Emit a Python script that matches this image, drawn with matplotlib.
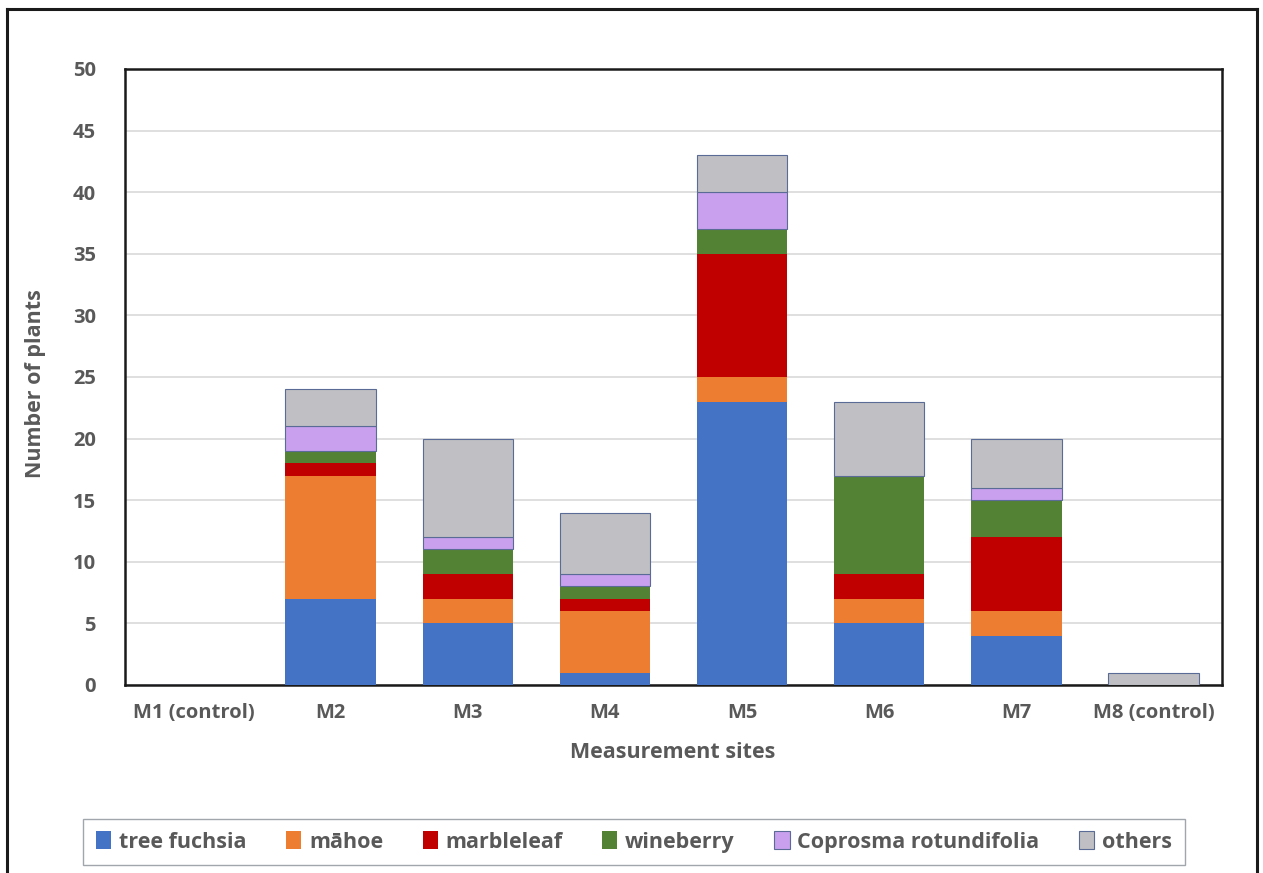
import matplotlib
matplotlib.use("Agg")
import matplotlib.pyplot as plt
from matplotlib.lines import Line2D
import numpy as np

plt.rcParams['font.family'] = ['Open Sans', 'DejaVu Sans']
plt.rcParams['font.weight'] = 'bold'

sites = ['M1 (control)', 'M2', 'M3', 'M4', 'M5', 'M6', 'M7', 'M8 (control)']
species = ['tree fuchsia', 'māhoe', 'marbleleaf', 'wineberry',
           'Coprosma rotundifolia', 'others']

tree_fuchsia = [0, 7, 5, 1, 23, 5, 4, 0]
mahoe = [0, 10, 2, 5, 2, 2, 2, 0]
marbleleaf = [0, 1, 2, 1, 10, 2, 6, 0]
wineberry = [0, 1, 2, 1, 2, 8, 3, 0]
coprosma = [0, 2, 1, 1, 3, 0, 1, 0]
others = [0, 3, 8, 5, 3, 6, 4, 1]

colors = ['#4472C4', '#ED7D31', '#C00000', '#548235', '#C9A0EE', '#C0C0C4']
edges = [None, None, None, None, '#5A6B95', '#5A6B95']

text_col = '#595959'

fig = plt.figure(figsize=(12.63, 8.73), dpi=100)
ax = fig.add_axes([125 / 1263, 1 - 685 / 873, 1097 / 1263, 616 / 873])

x = np.arange(len(sites))
bottom = np.zeros(len(sites))
handles = []
for vals, name, c, ec in zip([tree_fuchsia, mahoe, marbleleaf, wineberry, coprosma, others],
                             species, colors, edges):
    vals = np.array(vals, dtype=float)
    b = ax.bar(x, vals, width=0.66, bottom=bottom, color=c,
               edgecolor=ec if ec else c, linewidth=0.8 if ec else 0, zorder=3)
    handles.append(b)
    bottom += vals

ax.set_xlim(-0.5, len(sites) - 0.5)
ax.set_ylim(0, 50)
ax.set_yticks(np.arange(0, 51, 5))
ax.grid(axis='y', color='#D9D9D9', linewidth=1.2, zorder=0)
ax.set_xticks(x)
ax.set_xticklabels(sites)
ax.tick_params(axis='both', length=0, labelsize=14.5, colors=text_col)
ax.tick_params(axis='x', pad=13)
ax.tick_params(axis='y', pad=21)
for s in ax.spines.values():
    s.set_color('#1a1a1a')
    s.set_linewidth(1.8)

ax.set_xlabel('Measurement sites', fontsize=15.5, color=text_col, fontweight='bold')
ax.set_ylabel('Number of plants', fontsize=15.5, color=text_col, fontweight='bold')
ax.xaxis.set_label_coords((673 - 125) / 1097, -(753 - 685) / 616)
ax.yaxis.set_label_coords(-(125 - 36) / 1097, (685 - 384) / 616)
ax.xaxis.label.set_verticalalignment('center')
ax.yaxis.label.set_verticalalignment('center')

leg = fig.legend(handles, species, loc='center',
                 bbox_to_anchor=(634 / 1263, 1 - 842 / 873),
                 ncol=6, fontsize=15.5, frameon=True, fancybox=False,
                 handlelength=0.7, handleheight=0.85, handletextpad=0.35,
                 columnspacing=1.85, borderpad=0.6, borderaxespad=0)
leg.get_frame().set_edgecolor('#8A9099')
leg.get_frame().set_linewidth(1.0)
for t in leg.get_texts():
    t.set_color(text_col)

# outer frame around the figure (no bottom edge)
frame_kw = dict(color='#1a1a1a', linewidth=2.2, transform=fig.transFigure)
fig.add_artist(Line2D([7 / 1263, 7 / 1263], [0, 1 - 9 / 873], **frame_kw))
fig.add_artist(Line2D([7 / 1263, 1257 / 1263], [1 - 9 / 873, 1 - 9 / 873], **frame_kw))
fig.add_artist(Line2D([1257 / 1263, 1257 / 1263], [0, 1 - 9 / 873], **frame_kw))

fig.savefig('out.png', dpi=100)
